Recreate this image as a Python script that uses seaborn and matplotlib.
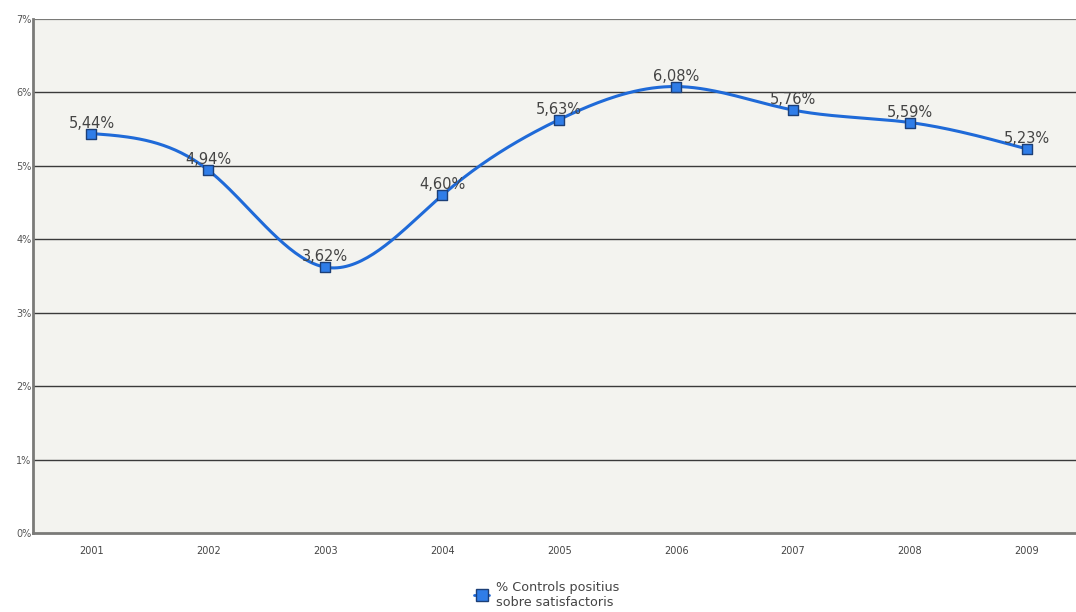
import numpy as np
import pandas as pd
import seaborn as sns
import matplotlib
matplotlib.use("Agg")
import matplotlib.pyplot as plt
from matplotlib.lines import Line2D

years = ["2001", "2002", "2003", "2004", "2005", "2006", "2007", "2008", "2009"]
values = [5.44, 4.94, 3.62, 4.60, 5.63, 6.08, 5.76, 5.59, 5.23]
value_labels = ["5,44%", "4,94%", "3,62%", "4,60%", "5,63%", "6,08%", "5,76%", "5,59%", "5,23%"]
y_ticks = [0, 1, 2, 3, 4, 5, 6, 7]
series_name = "% Controls positius\nsobre satisfactoris"

LINE_BLUE = "#1f6ad8"
BG = "#f3f3ef"


def smooth_curve(xs, ys, steps=40):
    """Natural cubic spline through the points, only used to draw the line."""
    xs = np.asarray(xs, dtype=float)
    ys = np.asarray(ys, dtype=float)
    n = len(xs)
    h = np.diff(xs)
    A = np.zeros((n, n))
    b = np.zeros(n)
    A[0, 0] = 1
    A[-1, -1] = 1
    for i in range(1, n - 1):
        A[i, i - 1] = h[i - 1]
        A[i, i] = 2 * (h[i - 1] + h[i])
        A[i, i + 1] = h[i]
        b[i] = 6 * ((ys[i + 1] - ys[i]) / h[i] - (ys[i] - ys[i - 1]) / h[i - 1])
    m = np.linalg.solve(A, b)
    out_x, out_y = [], []
    for i in range(n - 1):
        t = np.linspace(xs[i], xs[i + 1], steps)
        a = xs[i + 1] - t
        c = t - xs[i]
        yy = (m[i] * a ** 3 + m[i + 1] * c ** 3) / (6 * h[i]) \
            + (ys[i] / h[i] - m[i] * h[i] / 6) * a \
            + (ys[i + 1] / h[i] - m[i + 1] * h[i] / 6) * c
        out_x.extend(t)
        out_y.extend(yy)
    return np.array(out_x), np.array(out_y)


df = pd.DataFrame({"Year": years, "Value": values})
df["pos"] = np.arange(len(years))

sns.set_theme(style="white")
plt.rcParams["font.family"] = ["DejaVu Sans"]

fig = plt.figure(figsize=(10.76, 6.12), dpi=100)
ax = fig.add_axes([0.0307, 0.129, 0.9693, 0.840])
ax.set_facecolor(BG)

for yv in y_ticks[1:-1]:
    ax.axhline(yv, color="#3a3a3a", lw=1.0, zorder=1)
ax.axhline(7, color="#7a7a78", lw=1.6, zorder=1)

sx, sy = smooth_curve(df["pos"], df["Value"])
smooth_df = pd.DataFrame({"x": sx, "y": sy})
sns.lineplot(data=smooth_df, x="x", y="y", ax=ax, color=LINE_BLUE, lw=2.2,
             sort=False, estimator=None, zorder=3)
sns.scatterplot(data=df, x="pos", y="Value", ax=ax, marker="s", s=55,
                color="#2f7de8", edgecolor="#1c3f77", linewidth=1.0, zorder=4)

for xp, yv, lab in zip(df["pos"], df["Value"], value_labels):
    ax.annotate(lab, (xp, yv), xytext=(0, 2), textcoords="offset points",
                ha="center", va="bottom", fontsize=10.5, color="#444444", zorder=5)

ax.set_xlim(-0.5, 8.42)
ax.set_ylim(0, 7)
ax.set_xticks(df["pos"])
ax.set_xticklabels(years, fontsize=7, color="#444444")
ax.set_yticks(y_ticks)
ax.set_yticklabels([f"{v}%" for v in y_ticks], fontsize=7, color="#555555")
ax.tick_params(axis="x", length=0, pad=9)
ax.tick_params(axis="y", length=0, pad=1)
ax.set_xlabel("")
ax.set_ylabel("")

for side in ["top", "right"]:
    ax.spines[side].set_visible(False)
ax.spines["left"].set_color("#7a7a78")
ax.spines["left"].set_linewidth(2.0)
ax.spines["bottom"].set_color("#7a7a78")
ax.spines["bottom"].set_linewidth(2.0)

handle = Line2D([0], [0], color=LINE_BLUE, lw=2, marker="s", markersize=8,
                markerfacecolor="#2f7de8", markeredgecolor="#1c3f77")
fig.legend([handle], [series_name], loc="center", bbox_to_anchor=(0.508, 0.028),
           frameon=False, fontsize=9.2, handlelength=1.2, handletextpad=0.5,
           labelcolor="#444444")

fig.savefig("out.png", dpi=100, facecolor="white")
